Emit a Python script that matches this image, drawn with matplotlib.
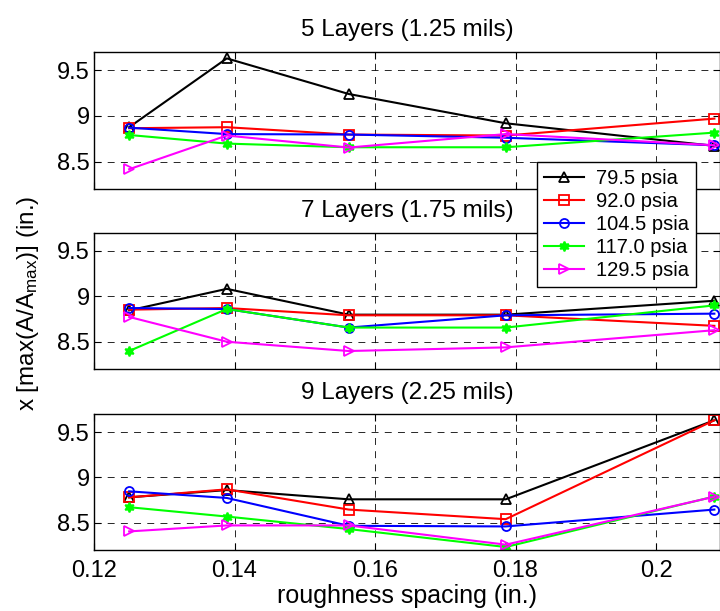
import matplotlib
matplotlib.use("Agg")
import matplotlib.pyplot as plt
from matplotlib.ticker import FixedLocator, FormatStrFormatter

plt.rcParams['font.family'] = ['Liberation Sans', 'DejaVu Sans']
plt.rcParams['mathtext.fontset'] = 'custom'
plt.rcParams['mathtext.rm'] = 'Liberation Sans'
plt.rcParams['mathtext.it'] = 'Liberation Sans:italic'
plt.rcParams['lines.scale_dashes'] = False

# ---- data ----
spacing = [0.125, 0.1389, 0.15625, 0.1786, 0.2083]
pressures = ['79.5 psia', '92.0 psia', '104.5 psia', '117.0 psia', '129.5 psia']
titles = ['5 Layers (1.25 mils)', '7 Layers (1.75 mils)', '9 Layers (2.25 mils)']

layers5 = [
    [8.875, 9.627, 9.238, 8.918, 8.671],
    [8.864, 8.875, 8.795, 8.784, 8.969],
    [8.870, 8.800, 8.795, 8.760, 8.678],
    [8.790, 8.696, 8.656, 8.656, 8.816],
    [8.416, 8.784, 8.653, 8.800, 8.678],
]
layers7 = [
    [8.845, 9.082, 8.798, 8.798, 8.951],
    [8.853, 8.871, 8.791, 8.791, 8.675],
    [8.871, 8.860, 8.656, 8.791, 8.809],
    [8.398, 8.860, 8.656, 8.656, 8.900],
    [8.773, 8.500, 8.398, 8.438, 8.627],
]
layers9 = [
    [8.781, 8.861, 8.759, 8.759, 9.631],
    [8.781, 8.869, 8.646, 8.540, 9.631],
    [8.847, 8.774, 8.467, 8.460, 8.646],
    [8.672, 8.569, 8.431, 8.233, 8.790],
    [8.405, 8.471, 8.471, 8.259, 8.788],
]
all_data = [layers5, layers7, layers9]
yticks = [8.5, 9, 9.5]
xticks = [0.12, 0.14, 0.16, 0.18, 0.2]

# ---- styles ----
colors = ['black', 'red', 'blue', '#00ff00', 'magenta']
markers = ['^', 's', 'o', (6, 1, 0), '>']
msizes = [7.5, 6.5, 6.5, 7, 7.5]
filled = [False, False, False, True, False]

W, H = 720, 611
fig = plt.figure(figsize=(W / 100, H / 100), dpi=100)

boxes = [(51.7, 189.0), (232.7, 369.0), (414.0, 550.0)]
left_px = 94
axes = []
for i, (top, bot) in enumerate(boxes):
    ax = fig.add_axes([left_px / W, 1 - bot / H, (W - left_px) / W, (bot - top) / H])
    axes.append(ax)
    handles = []
    for j in range(5):
        mfc = colors[j] if filled[j] else 'none'
        h, = ax.plot(spacing, all_data[i][j], color=colors[j], marker=markers[j],
                     markersize=msizes[j], markerfacecolor=mfc,
                     markeredgecolor=colors[j], markeredgewidth=1.3,
                     linewidth=1.5, label=pressures[j])
        handles.append(h)
    ax.set_xlim(0.12, 0.2091)
    ax.set_ylim(8.2, 9.7)
    ax.xaxis.set_major_locator(FixedLocator(xticks))
    ax.yaxis.set_major_locator(FixedLocator(yticks))
    ax.yaxis.set_major_formatter(FormatStrFormatter('%g'))
    ax.xaxis.set_major_formatter(FormatStrFormatter('%g'))
    ax.grid(True, color='black', linestyle=(0, (5, 4.5)), linewidth=0.7, alpha=0.85)
    ax.tick_params(direction='in', top=True, right=True, length=5, width=0.8,
                   labelsize=17)
    ax.tick_params(axis='y', pad=3)
    ax.tick_params(axis='x', pad=7)
    if i < 2:
        ax.tick_params(labelbottom=False)
    for s in ax.spines.values():
        s.set_linewidth(1.0)
    ax.set_title(titles[i], fontsize=17.5, pad=11)
    if i == 0:
        legend_handles = handles

axes[-1].set_xlabel('roughness spacing (in.)', fontsize=18, labelpad=2)
fig.text(28 / W, 1 - 303 / H, r'x [max(A/A$_{\mathrm{max}}$)] (in.)',
         rotation=90, ha='center', va='center', fontsize=17.5)

leg = fig.legend(legend_handles, pressures, loc='upper left',
                 bbox_to_anchor=(537 / W, 1 - 162 / H), fontsize=14.5,
                 frameon=True, fancybox=False, framealpha=1, edgecolor='black',
                 handlelength=2.0, borderpad=0.35, labelspacing=0.2,
                 handletextpad=0.6, borderaxespad=0)
leg.get_frame().set_linewidth(1.0)

fig.savefig('out.png', dpi=100)
